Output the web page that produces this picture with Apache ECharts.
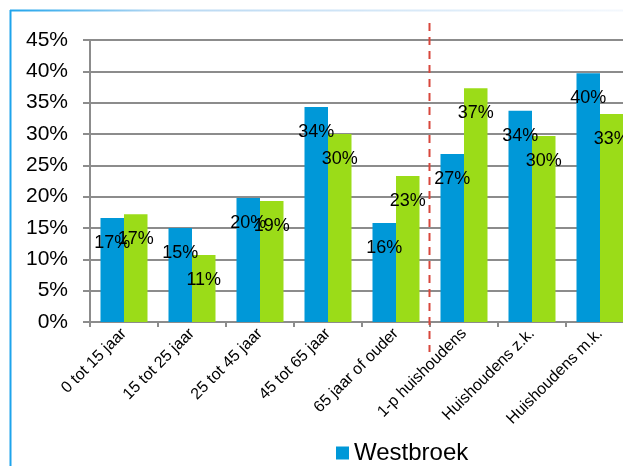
<!DOCTYPE html>
<html>
<head>
<meta charset="utf-8">
<script src="https://cdn.jsdelivr.net/npm/echarts@6/dist/echarts.min.js"></script>
<style>
  html, body { margin: 0; padding: 0; background: #ffffff; overflow: hidden; }
  #chart { width: 680px; height: 466px; }
</style>
</head>
<body>
<div id="chart"></div>
<script>
// Categories along the x axis
const categories = [
  '0 tot 15 jaar', '15 tot 25 jaar', '25 tot 45 jaar', '45 tot 65 jaar',
  '65 jaar of ouder', '1-p huishoudens', 'Huishoudens z.k.', 'Huishoudens m.k.'
];
// Shares in percent
const westbroek = [16.6, 15.0, 19.8, 34.3, 15.8, 26.8, 33.7, 39.7];
const vergelijking = [17.2, 10.7, 19.3, 30.0, 23.3, 37.3, 29.7, 33.2];
// Y axis range and step (percent)
const yMin = 0, yMax = 45, yStep = 5;
// Divider between age groups and household types (after this many categories)
const dividerAfter = 5;

const chart = echarts.init(document.getElementById('chart'), null, { renderer: 'canvas' });
const font = 'Liberation Sans, Arial, sans-serif';

const barLabel = {
  show: true,
  position: 'insideTop',
  distance: 16,
  color: '#000',
  fontSize: 18,
  fontFamily: font,
  formatter: p => Math.round(p.value) + '%'
};

chart.setOption({
  animation: false,
  grid: { left: 90, top: 40, width: 544, height: 282, containLabel: false },
  legend: {
    data: ['Westbroek'],
    left: 331, top: 436,
    itemWidth: 13, itemHeight: 13, itemGap: 20,
    icon: 'rect',
    textStyle: { fontSize: 24, fontFamily: font, color: '#000' }
  },
  xAxis: {
    type: 'category',
    data: categories,
    axisLine: { lineStyle: { color: '#8c8c8c', width: 2 } },
    axisTick: { show: true, length: 5, lineStyle: { color: '#8c8c8c', width: 2 } },
    axisLabel: { rotate: 45, fontSize: 16, fontFamily: font, color: '#000', margin: 9, interval: 0 }
  },
  yAxis: {
    type: 'value',
    min: yMin, max: yMax, interval: yStep,
    axisLine: { show: true, lineStyle: { color: '#8c8c8c', width: 2 } },
    axisTick: { show: true, length: 7, lineStyle: { color: '#8c8c8c', width: 2 } },
    axisLabel: { formatter: '{value}%', fontSize: 21, fontFamily: font, color: '#000', margin: 22 },
    splitLine: { lineStyle: { color: '#8c8c8c', width: 2 } }
  },
  series: [
    {
      name: 'Westbroek', type: 'bar', data: westbroek,
      barWidth: 23.5, barGap: '0%',
      itemStyle: { color: '#0098d8' },
      label: barLabel
    },
    {
      name: 'Vergelijking', type: 'bar', data: vergelijking,
      barWidth: 23.5, barGap: '0%',
      itemStyle: { color: '#9bdc18' },
      label: barLabel
    }
  ]
});

// Frame and the dashed divider line
const cA = chart.convertToPixel({ xAxisIndex: 0 }, dividerAfter - 1);
const cB = chart.convertToPixel({ xAxisIndex: 0 }, dividerAfter);
const divX = Math.round((cA + cB) / 2) - 0.5;

chart.setOption({
  graphic: [
    {
      type: 'line', silent: true,
      shape: { x1: 10.5, y1: 10, x2: 10.5, y2: 466 },
      style: { stroke: '#1ea4ec', lineWidth: 2 }
    },
    {
      type: 'line', silent: true,
      shape: { x1: 10, y1: 10.5, x2: 623, y2: 10.5 },
      style: {
        lineWidth: 2,
        stroke: new echarts.graphic.LinearGradient(0, 0, 1, 0, [
          { offset: 0, color: '#1ea4ec' },
          { offset: 0.25, color: '#b8d8f2' },
          { offset: 1, color: '#f4f8fd' }
        ])
      }
    },
    {
      type: 'line', silent: true, z: 100,
      shape: { x1: divX, y1: 23, x2: divX, y2: 352 },
      style: { stroke: '#d8473c', lineWidth: 2, lineDash: [8, 6] }
    }
  ]
});
</script>
</body>
</html>
